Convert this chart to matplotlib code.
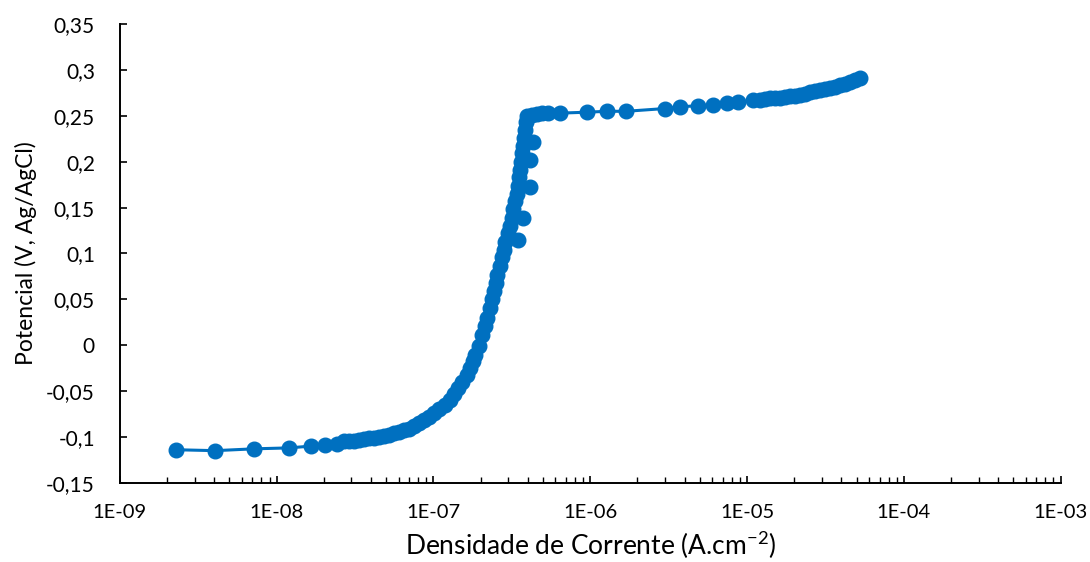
import matplotlib.pyplot as plt
from matplotlib.ticker import FuncFormatter, FixedLocator, LogLocator, MultipleLocator
import numpy as np

# Polarization curve: current density (A/cm2) vs potential (V vs Ag/AgCl)
densidade = [
    2.28e-9, 4.05e-9, 7.18e-9, 1.20e-8, 1.66e-8, 2.04e-8, 2.44e-8,
    2.70e-8, 2.90e-8, 3.13e-8, 3.37e-8, 3.62e-8, 3.90e-8, 4.20e-8, 4.52e-8,
    4.86e-8, 5.24e-8, 5.63e-8, 6.07e-8, 6.53e-8, 7.03e-8, 7.56e-8, 8.14e-8,
    8.76e-8, 9.43e-8, 1.015e-7, 1.09e-7, 1.18e-7, 1.27e-7, 1.36e-7, 1.44e-7,
    1.53e-7, 1.63e-7, 1.70e-7, 1.78e-7, 1.85e-7, 1.94e-7, 2.03e-7, 2.12e-7,
    2.21e-7, 2.28e-7, 2.35e-7, 2.42e-7, 2.49e-7, 2.56e-7, 2.64e-7, 2.72e-7,
    2.80e-7, 2.88e-7, 3.45e-7, 2.97e-7, 3.06e-7, 3.15e-7, 3.75e-7, 3.24e-7,
    3.29e-7, 3.39e-7, 4.10e-7, 3.44e-7, 3.49e-7, 3.54e-7, 3.60e-7, 4.15e-7,
    3.65e-7, 3.71e-7, 4.30e-7, 3.76e-7, 3.82e-7, 3.87e-7, 3.93e-7,
    4.23e-7, 4.55e-7, 4.90e-7, 5.35e-7, 6.38e-7, 9.50e-7, 1.27e-6, 1.69e-6,
    2.99e-6, 3.73e-6, 4.86e-6, 6.07e-6, 7.45e-6, 8.76e-6, 1.09e-5, 1.21e-5,
    1.30e-5, 1.40e-5, 1.51e-5, 1.63e-5, 1.75e-5, 1.88e-5, 2.03e-5, 2.18e-5,
    2.35e-5, 2.53e-5, 2.72e-5, 2.93e-5, 3.15e-5, 3.39e-5, 3.65e-5, 3.93e-5,
    4.23e-5, 4.55e-5, 4.90e-5, 5.27e-5,
]
potencial = [
    -0.114, -0.115, -0.113, -0.112, -0.110, -0.109, -0.108,
    -0.105, -0.104, -0.104, -0.103, -0.102, -0.101, -0.101, -0.100,
    -0.099, -0.098, -0.096, -0.095, -0.093, -0.091, -0.088, -0.085,
    -0.082, -0.078, -0.074, -0.070, -0.065, -0.060, -0.053, -0.047,
    -0.040, -0.033, -0.025, -0.017, -0.011, -0.001, 0.011, 0.021,
    0.030, 0.040, 0.050, 0.059, 0.068, 0.077, 0.086, 0.096,
    0.104, 0.113, 0.115, 0.122, 0.130, 0.139, 0.139, 0.148,
    0.157, 0.165, 0.172, 0.174, 0.183, 0.191, 0.200, 0.202,
    0.209, 0.217, 0.222, 0.226, 0.235, 0.243, 0.250,
    0.251, 0.252, 0.253, 0.253, 0.253, 0.254, 0.255, 0.255,
    0.258, 0.260, 0.261, 0.262, 0.264, 0.265, 0.267, 0.267,
    0.268, 0.269, 0.270, 0.270, 0.271, 0.272, 0.272, 0.273,
    0.274, 0.276, 0.277, 0.278, 0.279, 0.280, 0.282, 0.284,
    0.285, 0.287, 0.289, 0.291,
]
decadas = [1e-9, 1e-8, 1e-7, 1e-6, 1e-5, 1e-4, 1e-3]

azul = '#0070C0'
plt.rcParams['font.family'] = ['Lato', 'DejaVu Sans']

fig = plt.figure(figsize=(10.9, 5.62), dpi=100)
ax = fig.add_axes([0.110, 0.141, 0.863, 0.816])

ax.plot(densidade, potencial, '-o', color=azul, lw=2.2, ms=10.5, mec=azul)

ax.set_xscale('log')
ax.set_xlim(1e-9, 1e-3)
ax.set_ylim(-0.15, 0.35)
ax.yaxis.set_major_locator(MultipleLocator(0.05))
ax.xaxis.set_major_locator(FixedLocator(decadas))
ax.xaxis.set_minor_locator(LogLocator(base=10, subs=np.arange(2, 10), numticks=20))


def fmt_x(v, pos):
    e = int(round(np.log10(v)))
    return f"1E-{abs(e):02d}"


def fmt_y(v, pos):
    v = round(v, 2)
    if abs(v) < 1e-9:
        return "0"
    return f"{v:g}".replace('.', ',')


ax.xaxis.set_major_formatter(FuncFormatter(fmt_x))
ax.xaxis.set_minor_formatter(FuncFormatter(lambda v, p: ""))
ax.yaxis.set_major_formatter(FuncFormatter(fmt_y))

for s in ['top', 'right']:
    ax.spines[s].set_visible(False)
for s in ['left', 'bottom']:
    ax.spines[s].set_linewidth(1.4)
    ax.spines[s].set_color('black')

ax.tick_params(axis='both', which='major', direction='in', length=5, width=1.2,
               colors='black')
ax.tick_params(axis='x', which='minor', direction='in', length=4, width=1.0)
ax.tick_params(axis='x', which='major', pad=15, labelsize=14.5)
ax.tick_params(axis='y', which='major', pad=18, labelsize=15)

ax.set_xlabel('Densidade de Corrente (A.cm$^{\\mathregular{-2}}$)', fontsize=19)
ax.set_ylabel('Potencial (V, Ag/AgCl)', fontsize=16.5)
ax.xaxis.label.set_va('center')
ax.yaxis.label.set_va('center')
ax.xaxis.set_label_coords(0.5, -0.135)
ax.yaxis.set_label_coords(-0.100, 0.5)

fig.savefig('out.png', dpi=100)
